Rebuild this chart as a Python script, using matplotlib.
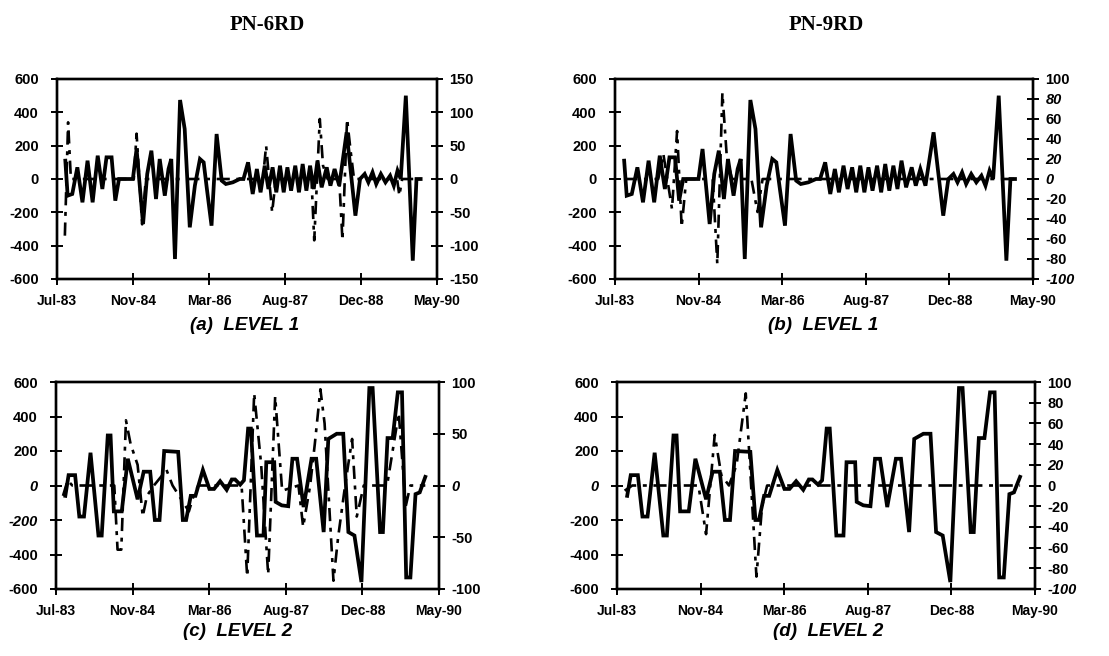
import matplotlib
matplotlib.use('Agg')
import matplotlib.pyplot as plt
import datetime as dt

plt.rcParams['font.family'] = ['Liberation Sans', 'DejaVu Sans']
plt.rcParams['axes.unicode_minus'] = False

# ---------------- data (months since Jul-1983) ----------------
START = dt.datetime(1983, 7, 1)
SPAN_DAYS = 2500
TICK_DAYS = 500

# LEVEL 1, left axis (solid) - same in (a) and (b)
lvl1_months = [1.8, 2.3, 3.3, 4.4, 5.5, 6.6, 7.7, 8.8, 9.8, 10.7, 11.8, 12.6, 13.4, 16.4,
               17.2, 18.6, 19.5, 20.4, 21.4, 22.2, 23.3, 24.1, 24.7, 25.5, 26.6, 27.6, 28.7,
               29.8, 30.9, 31.7, 32.4, 33.4, 34.5, 35.6, 36.5, 38.0, 39.5, 40.3, 41.3, 42.3,
               43.2, 44.0, 44.9, 45.7, 46.6, 47.4, 48.2, 49.0, 49.8, 50.6, 51.5, 52.3, 53.1,
               53.9, 54.7, 55.5, 56.3, 57.2, 58.3, 59.1, 60.0, 61.0, 62.6, 64.5, 65.5, 66.5,
               67.3, 68.2, 69.0, 70.0, 71.0, 72.0, 72.8, 73.6, 74.3, 75.4, 76.9, 77.7, 78.6]
lvl1_vals = [110, -100, -90, 70, -140, 110, -140, 140, -60, 130, 130, -130, 0, 0,
             180, -270, 30, 170, -120, 120, -100, 60, 120, -480, 474, 300, -290,
             -40, 120, 100, -60, -280, 270, -10, -30, -20, 0, 0, 100, -90,
             60, -80, 80, -60, 70, -80, 80, -80, 70, -70, 80, -80, 90,
             -70, 80, -60, 110, -50, 70, -40, 60, -40, 280, -220, 0, 30,
             -20, 40, -30, 30, -20, 20, -40, 50, 0, 500, -490, 0, 0]

# (a) PN-6RD level 1, right axis (dashed)
a_months = [1.7, 2.4, 3.0, 16.6, 17.2, 18.4, 19.2, 44.5, 45.2, 46.5, 47.3, 55.0, 55.6,
            56.8, 57.5, 58.5, 61.0, 61.7, 62.7, 63.5, 64.2, 73.5, 74.0, 74.6, 78.6]
a_vals = [-85, 85, 0, 0, 68, -68, 0, 0, 50, -50, 0, 0, -92,
          90, 20, 0, 0, -92, 90, 40, 0, 0, -25, 0, 0]

# (b) PN-9RD level 1, right axis (dashed)
b_months = [1.8, 8.5, 9.5, 11.2, 12.2, 13.1, 14.0, 19.2, 20.1, 21.1, 22.0, 23.0,
            26.8, 28.0, 29.0, 78.6]
b_vals = [0, 0, 25, -30, 48, -48, 0, 0, -85, 86, 20, 0,
          0, -33, 0, 0]

# LEVEL 2, left axis (solid) - same in (c) and (d)
lvl2_months = [2.0, 2.7, 4.1, 5.0, 6.0, 7.4, 9.1, 9.8, 11.1, 11.7, 12.4, 14.1, 15.4,
               17.5, 18.8, 20.2, 21.2, 22.2, 23.2, 26.2, 27.2, 27.9, 28.9, 29.9, 31.5,
               32.9, 33.9, 35.2, 36.6, 37.7, 38.4, 39.5, 40.3, 41.2, 41.8, 43.1, 44.5,
               45.1, 46.8, 47.1, 48.4, 49.8, 50.7, 51.7, 53.1, 54.8, 55.8, 57.4, 58.4,
               60.2, 61.6, 62.7, 64.0, 65.5, 67.2, 67.9, 69.5, 70.1, 71.1, 72.2, 73.3,
               74.2, 75.1, 76.0, 77.1, 78.0, 79.2]
lvl2_vals = [-60, 60, 60, -180, -180, 190, -290, -290, 290, 290, -150, -150, 155,
             -80, 80, 80, -200, -200, 200, 195, -200, -200, -60, -60, 90,
             -20, -20, 25, -25, 35, 35, 5, 30, 330, 330, -290, -290,
             135, 135, -95, -115, -120, 155, 155, -125, 155, 155, -270, 270,
             300, 300, -270, -290, -560, 565, 565, -270, -270, 275, 275, 540,
             540, -533, -533, -50, -40, 50]

# (c) PN-6RD level 2, right axis (dashed)
c_months = [1.5, 2.5, 3.5, 12.5, 13.2, 14.0, 15.0, 16.0, 17.5, 18.6, 19.5, 21.0,
            23.7, 25.0, 28.5, 29.5, 30.5, 39.8, 41.0, 42.5, 44.0, 45.5, 47.0, 48.5,
            52.0, 53.0, 54.5, 55.5, 56.7, 57.6, 59.5, 60.5, 62.0, 63.5, 64.5, 66.0,
            71.0, 73.5, 75.0, 76.0, 79.2]
c_vals = [-10, 5, 0, 0, -62, -62, 63, 40, 20, -30, -10, 0,
          15, 0, -25, -10, 0, 0, -88, 89, 20, -86, 86, -5,
          0, -40, 0, 40, 93, 60, -92, -50, 0, 45, -30, 0,
          0, 70, -20, 0, 0]

# (d) PN-9RD level 2, right axis (dashed)
d_months = [1.5, 3.0, 16.0, 17.5, 19.2, 20.5, 22.0, 23.5, 25.3, 27.4, 28.5, 29.5, 79.2]
d_vals = [-5, 0, 0, -47, 49, 10, 0, 20, 89, -88, -20, 0, 0]

x_labels = ['Jul-83', 'Nov-84', 'Mar-86', 'Aug-87', 'Dec-88', 'May-90']
left_ticks = [600, 400, 200, 0, -200, -400, -600]
right_ticks_a = [150, 100, 50, 0, -50, -100, -150]
right_ticks_b = [100, 80, 60, 40, 20, 0, -20, -40, -60, -80, -100]
right_ticks_c = [100, 50, 0, -50, -100]
right_ticks_d = [100, 80, 60, 40, 20, 0, -20, -40, -60, -80, -100]

titles = ['PN-6RD', 'PN-9RD']
captions = ['(a)  LEVEL 1', '(b)  LEVEL 1', '(c)  LEVEL 2', '(d)  LEVEL 2']

# ---------------- drawing ----------------
W, H = 1109, 656
fig = plt.figure(figsize=(W / 100, H / 100), dpi=100)


def box(l, t, r, b):
    return [l / W, 1 - b / H, (r - l) / W, (b - t) / H]


def to_dates(months):
    return [START + dt.timedelta(days=m * 30.4375) for m in months]


SOLID = dict(color='black', lw=2.7, solid_joinstyle='miter')
DASH = dict(color='black', lw=1.9, linestyle=(0, (5, 2.5, 1.5, 2.5)))


def style_ticklabels(labels, italic_set, size):
    for lab in labels:
        lab.set_fontweight('bold')
        lab.set_fontsize(size)
        if lab.get_text() in italic_set:
            lab.set_fontstyle('italic')


def panel(rect, sol_m, sol_v, dash_m, dash_v, rlim, rticks, left_italic=(), right_italic=()):
    ax = fig.add_axes(rect)
    ax.plot(to_dates(sol_m), sol_v, **SOLID)
    ax.set_ylim(-600, 600)
    ax.set_yticks(left_ticks)
    ax.set_yticklabels([str(v) for v in left_ticks])
    x0 = START
    x1 = START + dt.timedelta(days=SPAN_DAYS)
    ax.set_xlim(x0, x1)
    ax.set_xticks([START + dt.timedelta(days=TICK_DAYS * k) for k in range(6)])
    ax.set_xticklabels(x_labels)
    ax2 = ax.twinx()
    ax2.plot(to_dates(dash_m), dash_v, **DASH)
    ax2.set_ylim(-rlim, rlim)
    ax2.set_yticks(rticks)
    ax2.set_yticklabels([str(v) for v in rticks])
    ax2.set_xlim(x0, x1)
    for a in (ax, ax2):
        for s in a.spines.values():
            s.set_linewidth(1.7)
        a.tick_params(direction='inout', length=8, width=1.4)
    ax.tick_params(axis='y', pad=9)
    ax2.tick_params(axis='y', pad=5)
    ax.tick_params(axis='x', pad=7)
    style_ticklabels(ax.get_yticklabels(), left_italic, 10.5)
    style_ticklabels(ax.get_xticklabels(), (), 10)
    style_ticklabels(ax2.get_yticklabels(), right_italic, 10.5)
    return ax


panel(box(57, 79, 437, 279), lvl1_months, lvl1_vals, a_months, a_vals, 150, right_ticks_a)
panel(box(615, 79, 1033, 279), lvl1_months, lvl1_vals, b_months, b_vals, 100, right_ticks_b,
      right_italic={'80', '20', '0', '-100'})
panel(box(56, 382, 439, 589), lvl2_months, lvl2_vals, c_months, c_vals, 100, right_ticks_c,
      left_italic={'0', '-200'}, right_italic={'0'})
panel(box(617, 382, 1035, 589), lvl2_months, lvl2_vals, d_months, d_vals, 100, right_ticks_d,
      left_italic={'0'}, right_italic={'20', '-100'})

for txt, cx in zip(titles, [267, 826]):
    fig.text(cx / W, 1 - 25 / H, txt, ha='center', va='center', size=15, weight='bold',
             family=['Liberation Serif', 'DejaVu Serif'])

for txt, (cx, cy) in zip(captions, [(245, 326), (823, 326), (238, 632), (828, 632)]):
    fig.text(cx / W, 1 - cy / H, txt, ha='center', va='center', size=13.5,
             weight='bold', style='italic')

fig.savefig('out.png', dpi=100)
